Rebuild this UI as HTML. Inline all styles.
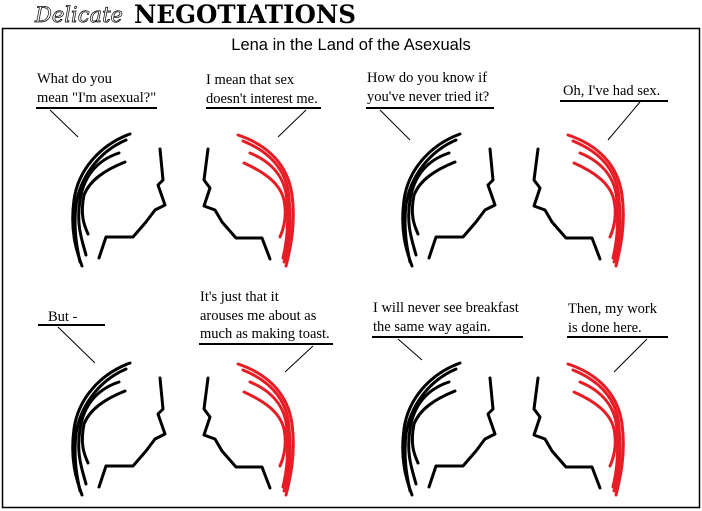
<!DOCTYPE html>
<html><head><meta charset="utf-8"><style>
html,body{margin:0;padding:0;background:#fff;width:702px;height:511px;overflow:hidden}
svg{display:block}
.t{font-family:"Liberation Serif",serif;font-size:14.5px;fill:#000}
</style></head><body>
<svg width="702" height="511" viewBox="0 0 702 511" xmlns="http://www.w3.org/2000/svg">
<defs>
<g id="bh" fill="none" stroke="#000" stroke-width="3" stroke-linecap="round" stroke-linejoin="round">
<path d="M130,134 C100,145 78,170 74,200 C70,230 76,250 82,266"/>
<path d="M126,140 C98,152 80,178 76,205 C73,232 78,252 80,262"/>
<path d="M119,153 C98,160 84,175 80,200 C76,225 82,240 86,255"/>
<path d="M125,162 C105,170 90,180 84,195 C80,215 84,225 88,234"/>
<path d="M160,149 L163,180 L158,185 L165,205 L155,210 L146,222 L133,237 L106,237 L99,258"/>
</g>
<g id="rh" fill="none" stroke-width="3" stroke-linecap="round" stroke-linejoin="round">
<g stroke="#e81c24">
<path d="M238,135 C268,145 288,165 292,195 C296,225 290,250 286,266"/>
<path d="M243,141 C270,152 287,170 289,198 C292,228 288,250 284,262"/>
<path d="M250,153 C272,162 286,178 287,202 C289,228 286,245 283,258"/>
<path d="M244,163 C264,172 280,183 284,200 C287,215 284,228 280,237"/>
</g>
<path stroke="#000" d="M208,149 L204,180 L210,188 L204,206 L215,210 L222,222 L236,238 L262,238 L270,259"/>
</g>
</defs>
<rect x="2.5" y="28.5" width="697" height="479" fill="none" stroke="#000" stroke-width="1.5"/>
<text x="35" y="22" font-family="'DejaVu Serif',serif" font-style="italic" font-size="21" textLength="88" lengthAdjust="spacingAndGlyphs" fill="none" stroke="#000" stroke-width="0.7">Delicate</text>
<text x="134" y="23" font-family="'DejaVu Serif','Liberation Serif',serif" font-weight="bold" font-size="25" textLength="222" lengthAdjust="spacingAndGlyphs" fill="#000">NEGOTIATIONS</text>
<text x="351" y="50" text-anchor="middle" font-family="'Liberation Sans',sans-serif" font-size="16.5">Lena in the Land of the Asexuals</text>

<use href="#bh"/><use href="#rh"/>
<use href="#bh" x="330"/><use href="#rh" x="330"/>
<use href="#bh" y="229"/><use href="#rh" y="229"/>
<use href="#bh" x="330" y="229"/><use href="#rh" x="330" y="229"/>

<g stroke="#000" fill="none">
<path stroke-width="2" d="M36,108H157 M206,108H321 M366,108H494 M560,101H668 M38,325H105 M199,344H333 M372,337H523 M567,337H668"/>
<path stroke-width="1" d="M50,110L78,137 M306,110L278,137 M380,110L410,140 M640,102L608,140 M58,327L95,363 M313,346L285,372 M398,339L422,360 M647,339L614,372"/>
</g>
<text class="t" x="37" y="83">What do you</text>
<text class="t" x="37" y="102">mean "I'm asexual?"</text>
<text class="t" x="206" y="84">I mean that sex</text>
<text class="t" x="206" y="103">doesn't interest me.</text>
<text class="t" x="367" y="82">How do you know if</text>
<text class="t" x="367" y="101">you've never tried it?</text>
<text class="t" x="563" y="95">Oh, I've had sex.</text>
<text class="t" x="48" y="321">But -</text>
<text class="t" x="200" y="301">It's just that it</text>
<text class="t" x="200" y="320">arouses me about as</text>
<text class="t" x="200" y="338">much as making toast.</text>
<text class="t" x="373" y="312">I will never see breakfast</text>
<text class="t" x="373" y="331">the same way again.</text>
<text class="t" x="568" y="313">Then, my work</text>
<text class="t" x="568" y="332">is done here.</text>
</svg>
</body></html>
